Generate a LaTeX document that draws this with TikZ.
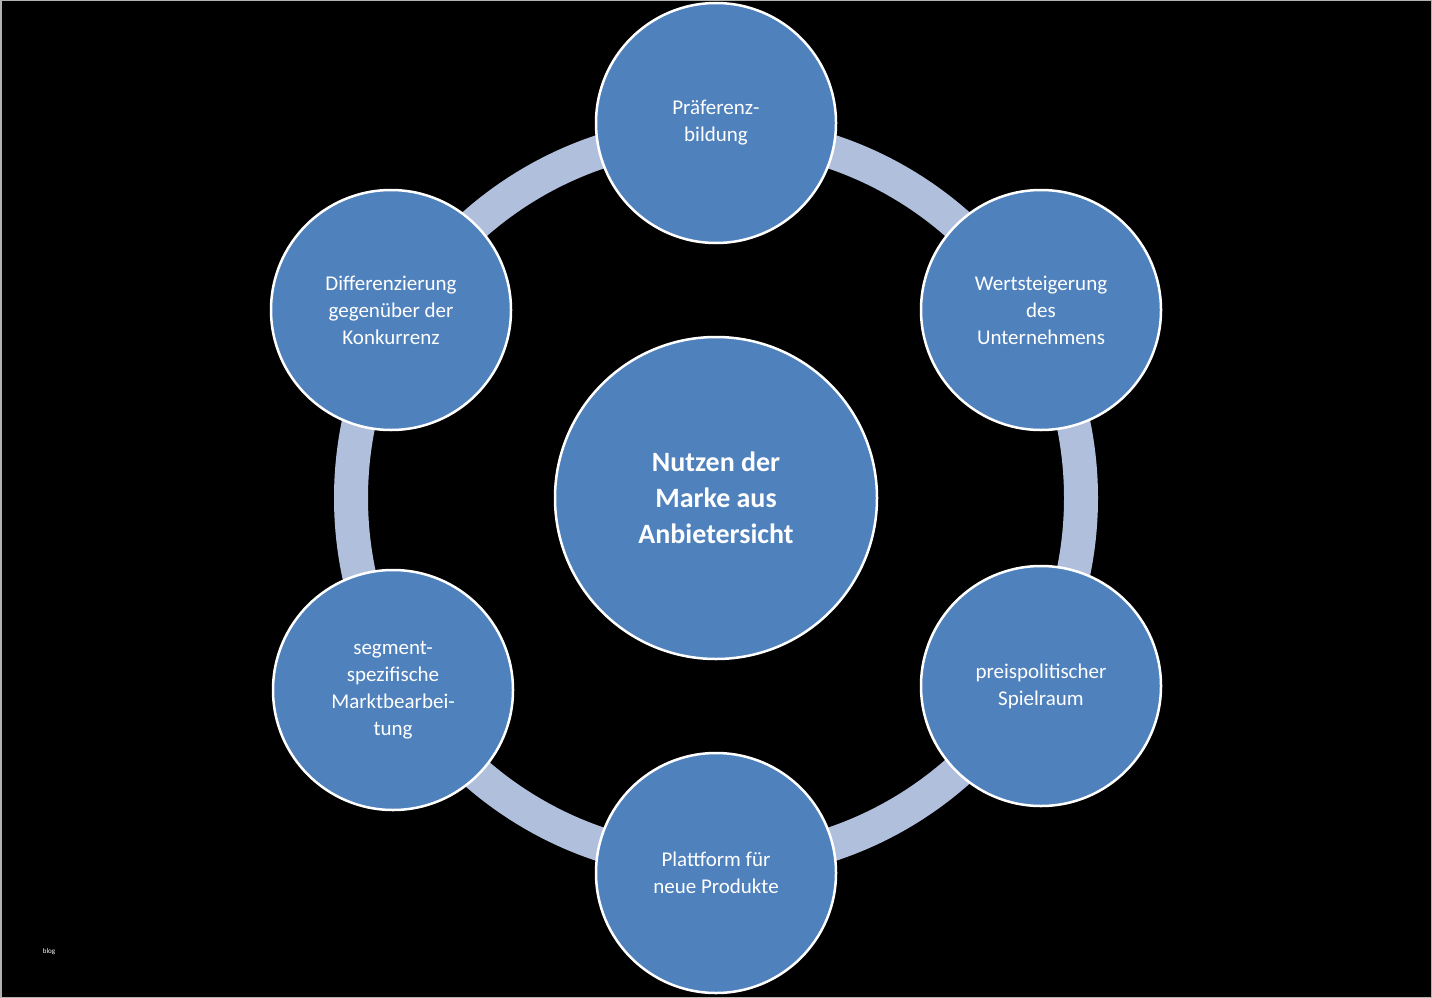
\documentclass[tikz,border=0pt]{standalone}
\usepackage{fontspec}
\setmainfont{Carlito}
\begin{document}
\begin{tikzpicture}[x=1pt,y=-1pt,
  sat/.style={circle,fill=satfill,draw=white,line width=2.5pt,minimum size=240pt,inner sep=0pt,text=white,align=center,font=\fontsize{21}{27}\selectfont},
  hub/.style={sat,minimum size=322pt,font=\fontsize{28}{36}\selectfont\bfseries}]
\definecolor{satfill}{HTML}{4F81BD}
\definecolor{ringc}{HTML}{B0BFDB}
\fill[black] (0,0) rectangle (1432,998);
\draw[gray!60,line width=1.5pt] (0.75,0.75) rectangle (1431.25,997.25);
\draw[ringc,line width=34pt] (716,498) circle (365pt);
\node[hub] (c) at (716,498) {Nutzen der\\Marke aus\\Anbietersicht};
\node[sat] (a) at (716,123) {Präferenz-\\bildung};
\node[sat] (b) at (1041,310) {Wertsteigerung\\des\\Unternehmens};
\node[sat] (d) at (1041,686) {preispolitischer\\Spielraum};
\node[sat] (e) at (716,873) {Plattform für\\neue Produkte};
\node[sat] (f) at (393,690) {segment-\\spezifische\\Marktbearbei-\\tung};
\node[sat] (g) at (391,310) {Differenzierung\\gegenüber der\\Konkurrenz};
\node[text=white,font=\fontsize{7}{8}\selectfont] (bl) at (49,952) {blog};
\end{tikzpicture}
\end{document}
